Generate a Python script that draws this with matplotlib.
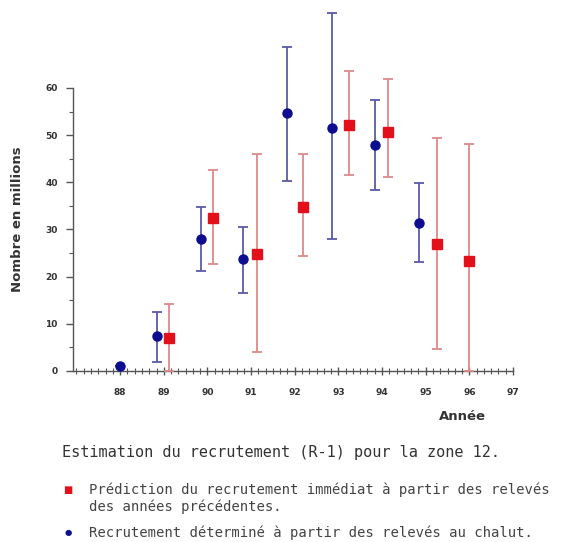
import matplotlib
matplotlib.use("Agg")
import matplotlib.pyplot as plt
from matplotlib.ticker import MultipleLocator, FixedLocator
import numpy as np

# Trawl-survey recruitment (blue circles)
blue_x = [88.0, 88.85, 89.85, 90.82, 91.83, 92.85, 93.84, 94.85]
blue_y = [1.0, 7.4, 28.0, 23.7, 54.6, 51.6, 47.9, 31.4]
blue_lo = [1.0, 2.0, 21.2, 16.5, 40.3, 27.9, 38.4, 23.2]
blue_hi = [1.0, 12.6, 34.7, 30.6, 68.6, 75.8, 57.5, 39.8]

# Predicted recruitment (red squares)
red_x = [89.13, 90.12, 91.13, 92.18, 93.24, 94.14, 95.27, 96.0]
red_y = [7.1, 32.5, 24.8, 34.7, 52.2, 50.7, 26.9, 23.3]
red_lo = [0.0, 22.7, 4.1, 24.4, 41.6, 41.2, 4.6, 0.0]
red_hi = [14.2, 42.6, 45.9, 45.9, 63.5, 61.8, 49.3, 48.1]

year_ticks = list(range(88, 98))
y_ticks = [0, 10, 20, 30, 40, 50, 60]

px_per_unit = 47.17 / 10
ytop = 77
fig = plt.figure(figsize=(5.65, 5.42), dpi=100)
ax = fig.add_axes([73/565, 171/542, 440/565, ytop*px_per_unit/542])

by = np.array(blue_y); rb = np.array(red_y)
berr = [by - np.array(blue_lo), np.array(blue_hi) - by]
rerr = [rb - np.array(red_lo), np.array(red_hi) - rb]

ax.errorbar(blue_x, blue_y, yerr=berr, fmt='o', color='#0d0d8f', ms=6.5,
            ecolor='#5a5aa8', elinewidth=1.3, capsize=3.6, capthick=1.3,
            clip_on=False, zorder=3)
ax.errorbar(red_x, red_y, yerr=rerr, fmt='s', color='#e3101c', ms=6.5,
            ecolor='#dc8a8a', elinewidth=1.3, capsize=3.6, capthick=1.3,
            clip_on=False, zorder=3)

ax.set_xlim(86.92, 97.0)
ax.set_ylim(0, ytop)
for s in ['top', 'right']:
    ax.spines[s].set_visible(False)
ax.spines['left'].set_bounds(0, 60)
ax.spines['bottom'].set_bounds(86.92, 97.0)
for s in ['left', 'bottom']:
    ax.spines[s].set_color('#555555')
    ax.spines[s].set_linewidth(1.0)

ax.set_xticks(year_ticks)
ax.set_xticklabels([str(v) for v in year_ticks])
ax.xaxis.set_minor_locator(MultipleLocator(1/6))
ax.set_yticks(y_ticks)
ax.yaxis.set_minor_locator(FixedLocator([5, 15, 25, 35, 45, 55]))
ax.tick_params(axis='x', which='major', direction='inout', length=6, width=1,
               color='#555555', labelsize=6.5, pad=9)
ax.tick_params(axis='x', which='minor', direction='inout', length=4, width=0.8,
               color='#555555')
ax.tick_params(axis='y', which='major', direction='out', length=5, width=1,
               color='#555555', labelsize=6.5, pad=6)
ax.tick_params(axis='y', which='minor', direction='out', length=3, width=0.8,
               color='#555555')
for lab in ax.get_xticklabels() + ax.get_yticklabels():
    lab.set_fontweight('bold')
    lab.set_color('#333333')

fig.text(18/565, 1 - 219/542, 'Nombre en millions', rotation=90, ha='center',
         va='center', fontsize=9.5, fontweight='bold', color='#333333')
fig.text(462/565, 1 - 416/542, 'Année', ha='center', va='center',
         fontsize=9.5, fontweight='bold', color='#333333')

mono = 'DejaVu Sans Mono'
fig.text(62/565, 1 - 453/542, 'Estimation du recrutement (R-1) pour la zone 12.',
         ha='left', va='center', fontsize=11, color='#333333', family=mono)

fig.text(68/565, 1 - 490/542, '\u25A0', ha='center', va='center', fontsize=7,
         color='#e3101c')
fig.text(89/565, 1 - 490/542, 'Prédiction du recrutement immédiat à partir des relevés',
         ha='left', va='center', fontsize=10, color='#444444', family=mono)
fig.text(89/565, 1 - 507/542, 'des années précédentes.',
         ha='left', va='center', fontsize=10, color='#444444', family=mono)
fig.text(68/565, 1 - 533/542, '\u25CF', ha='center', va='center', fontsize=6,
         color='#0d0d8f')
fig.text(89/565, 1 - 533/542, 'Recrutement déterminé à partir des relevés au chalut.',
         ha='left', va='center', fontsize=10, color='#444444', family=mono)

fig.savefig('out.png', dpi=100)
